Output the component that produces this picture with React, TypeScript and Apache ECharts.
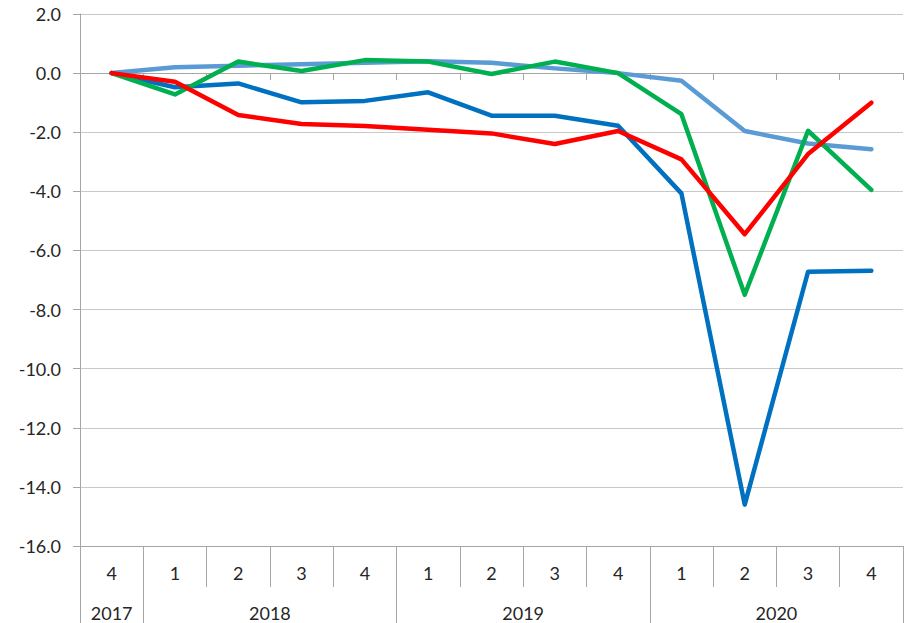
import React, { useEffect, useRef } from "react";
import * as echarts from "echarts";

const quarters = ["4", "1", "2", "3", "4", "1", "2", "3", "4", "1", "2", "3", "4"];
const years = ["2017", "2018", "2019", "2020"];
const yearSpans = [1, 4, 4, 4];

const seriesLightBlue = [0, 0.2, 0.25, 0.3, 0.35, 0.4, 0.35, 0.16, 0.0, -0.26, -1.96, -2.38, -2.58];
const seriesBlue = [0, -0.48, -0.35, -0.99, -0.94, -0.65, -1.44, -1.44, -1.78, -4.07, -14.6, -6.72, -6.69];
const seriesGreen = [0, -0.72, 0.39, 0.07, 0.44, 0.39, -0.03, 0.39, 0.0, -1.39, -7.5, -1.95, -3.95];
const seriesRed = [0, -0.29, -1.42, -1.72, -1.79, -1.92, -2.04, -2.4, -1.96, -2.92, -5.45, -2.74, -1.0];

const FONT = "Lato";
const TEXT = "#262626";
const AXIS = "#A6A6A6";
const GRID = "#C8C8C8";

export default function App() {
  const ref = useRef<HTMLDivElement>(null);
  useEffect(() => {
    document.body.style.margin = "0";
    if (!ref.current) return;
    const chart = echarts.init(ref.current, undefined, { renderer: "svg" });

    // year axis: half-category slots (boundaryGap false)
    const nSlots = quarters.length * 2 + 1;
    const yearSlots: string[] = new Array(nSlots).fill("");
    const boundaries = new Set<number>();
    const labelIdx = new Set<number>();
    let start = 0;
    years.forEach((y, i) => {
      const span = yearSpans[i];
      const center = start * 2 + span;
      yearSlots[center] = y;
      labelIdx.add(center);
      boundaries.add(start * 2);
      boundaries.add((start + span) * 2);
      start += span;
    });

    const mk = (name: string, data: number[], color: string) => ({
      name,
      type: "line",
      data,
      xAxisIndex: 0,
      yAxisIndex: 0,
      symbol: "none",
      lineStyle: { color, width: 4.5, cap: "round", join: "round" },
      itemStyle: { color },
    });

    chart.setOption({
      animation: false,
      grid: { left: 80, right: 1, top: 14, bottom: 77, containLabel: false },
      xAxis: [
        {
          type: "category",
          data: quarters,
          position: "bottom",
          boundaryGap: true,
          axisLine: { show: true, onZero: false, lineStyle: { color: AXIS, width: 1 } },
          axisTick: { show: true, interval: 0, length: 41, lineStyle: { color: AXIS } },
          axisLabel: { interval: 0, margin: 18, fontSize: 18, fontFamily: FONT, color: TEXT },
          splitLine: { show: false },
        },
        {
          type: "category",
          data: yearSlots,
          position: "bottom",
          boundaryGap: false,
          axisLine: { show: false, onZero: false },
          axisTick: {
            show: true,
            length: 77,
            interval: (i: number) => boundaries.has(i),
            lineStyle: { color: AXIS },
          },
          axisLabel: {
            interval: (i: number) => labelIdx.has(i),
            margin: 58,
            fontSize: 18,
            fontFamily: FONT,
            color: TEXT,
          },
          splitLine: { show: false },
        },
        {
          type: "category",
          data: quarters,
          position: "bottom",
          boundaryGap: true,
          axisLine: { show: true, onZero: true, onZeroAxisIndex: 0, lineStyle: { color: AXIS, width: 1 } },
          axisTick: { show: true, interval: 0, length: 7, lineStyle: { color: AXIS } },
          axisLabel: { show: false },
          splitLine: { show: false },
        },
      ],
      yAxis: {
        type: "value",
        min: -16,
        max: 2,
        interval: 2,
        axisLine: { show: true, lineStyle: { color: AXIS, width: 1 } },
        axisTick: { show: true, length: 7, lineStyle: { color: AXIS } },
        axisLabel: {
          margin: 19,
          fontSize: 18,
          fontFamily: FONT,
          color: TEXT,
          formatter: (v: number) => v.toFixed(1),
        },
        splitLine: { show: true, lineStyle: { color: GRID, width: 1 } },
      },
      series: [
        mk("Light blue", seriesLightBlue, "#5B9BD5"),
        mk("Blue", seriesBlue, "#0070C0"),
        mk("Green", seriesGreen, "#00B050"),
        mk("Red", seriesRed, "#FF0000"),
      ],
    });
    return () => chart.dispose();
  }, []);
  return <div ref={ref} style={{ width: 904, height: 623 }} />;
}
